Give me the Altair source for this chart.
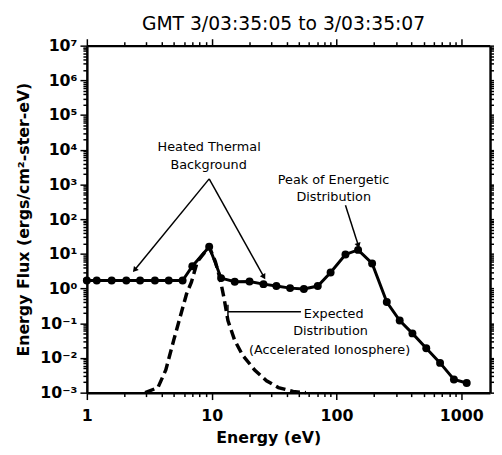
import math
import altair as alt
import pandas as pd

# ---------------- data ----------------
# measured spectrum (solid line with dots)
energy_obs = [1.0, 1.2, 1.58, 2.07, 2.67, 3.51, 4.53, 5.85, 7.0, 9.55, 11.9, 15.3,
              20.1, 26.0, 33.0, 42.5, 54.8, 70.8, 89.7, 118, 149, 193, 253, 321,
              406, 524, 676, 873, 1105]
flux_obs = [1.7, 1.7, 1.7, 1.7, 1.7, 1.7, 1.7, 1.7, 4.4, 16, 2.0, 1.58,
            1.6, 1.34, 1.18, 1.03, 0.97, 1.18, 2.9, 9.6, 13, 5.3, 0.41, 0.12,
            0.051, 0.019, 0.0072, 0.0024, 0.0019]

# expected distribution (dashed)
energy_exp = [2.93, 3.71, 4.29, 4.96, 5.74, 6.29, 6.88, 7.68, 9.55, 10.7, 11.7,
              12.6, 13.5, 15.3, 17.7, 22.1, 27.5, 34.2, 44.9, 56.9]
flux_exp = [0.001, 0.0014, 0.0045, 0.032, 0.215, 0.70, 1.53, 6.0, 16, 6.0, 1.86,
            0.50, 0.119, 0.032, 0.012, 0.0045, 0.0022, 0.0014, 0.00108, 0.001]

# axis ticks
x_tick_values = [1, 10, 100, 1000]
x_tick_labels = ["1", "10", "100", "1000"]
x_minor_mult = [2, 3, 4, 5, 6, 7, 8, 9]
y_tick_values = [1e-3, 1e-2, 1e-1, 1e0, 1e1, 1e2, 1e3, 1e4, 1e5, 1e6, 1e7]
y_tick_labels = ["10⁻³", "10⁻²", "10⁻¹", "10⁰", "10¹", "10²", "10³",
                 "10⁴", "10⁵", "10⁶", "10⁷"]

# annotations
note_text = ["Heated Thermal", "Background", "Peak of Energetic", "Distribution",
             "Expected", "Distribution", "(Accelerated Ionosphere)"]
note_x = [9.55, 9.45, 94.7, 95, 95, 89.6, 88]
note_y = [12000, 3670, 1380, 425, 0.189, 0.058, 0.0168]

seg_x = [9.55, 9.55, 118, 51.9, 13.5]
seg_y = [1450, 1450, 251, 0.215, 0.34]
seg_x2 = [2.44, 26.0, 149, 13.5, 13.5]
seg_y2 = [3.58, 2.27, 18.4, 0.215, 0.136]
seg_head = [True, True, True, False, False]

# ---------------- layout ----------------
W, H = 409, 352
XMIN, XMAX = 1, 1700
YMIN, YMAX = 1e-3, 1e7
FONT = "DejaVu Sans"

x_scale = alt.Scale(type="log", domain=[XMIN, XMAX], nice=False)
y_scale = alt.Scale(type="log", domain=[YMIN, YMAX], nice=False)

x_all = []
for v in x_tick_values:
    x_all.append(v)
    if v * 2 <= XMAX:
        x_all += [v * m for m in x_minor_mult if v * m <= XMAX]
y_all = []
for v in y_tick_values:
    y_all.append(v)
    if v < YMAX:
        y_all += [v * m for m in x_minor_mult]


def label_expr(values, labels):
    expr = "''"
    for v, l in reversed(list(zip(values, labels))):
        expr = f"abs(datum.value/{v!r} - 1) < 1e-6 ? '{l}' : ({expr})"
    return expr


major_test = "abs(log(datum.value)/LN10 - round(log(datum.value)/LN10)) < 0.0001"
tick_size = {"condition": {"test": major_test, "value": 7}, "value": 4}

common_axis = dict(grid=False, domainColor="black", domainWidth=2.5,
                   tickColor="black", tickWidth=1.5, tickSize=tick_size,
                   labelOverlap=False, labelFlush=False, labelBound=False)

x_axis_main = alt.Axis(values=x_all, labelExpr=label_expr(x_tick_values, x_tick_labels),
                       labelFont=FONT, labelFontWeight="bold", labelFontSize=16,
                       labelColor="black", labelPadding=8,
                       title="Energy (eV)", titleFont=FONT, titleFontWeight="bold",
                       titleFontSize=16, titleColor="black", titleX=184, titleY=51,
                       titleBaseline="alphabetic", titleAlign="center",
                       orient="bottom", **common_axis)
y_axis_main = alt.Axis(values=y_all, labelExpr=label_expr(y_tick_values, y_tick_labels),
                       labelFont=FONT, labelFontWeight="bold", labelFontSize=16,
                       labelColor="black", labelPadding=3,
                       title="Energy Flux (ergs/cm²-ster-eV)", titleFont=FONT,
                       titleFontWeight="bold", titleFontSize=16, titleColor="black",
                       titleX=-64, titleY=176, titleAngle=270, titleBaseline="middle",
                       titleAlign="center", orient="left", **common_axis)
x_axis_top = alt.Axis(values=x_all, labels=False, title=None, orient="top", **common_axis)
y_axis_right = alt.Axis(values=y_all, labels=False, title=None, orient="right", **common_axis)

obs = pd.DataFrame({"energy": energy_obs, "flux": flux_obs})
exp_df = pd.DataFrame({"energy": energy_exp, "flux": flux_exp})
notes = pd.DataFrame({"text": note_text, "energy": note_x, "flux": note_y})
segs = pd.DataFrame({"x": seg_x, "y": seg_y, "x2": seg_x2, "y2": seg_y2})


def px(e):
    return W * math.log10(e / XMIN) / math.log10(XMAX / XMIN)


def py(f):
    return H * (math.log10(YMAX) - math.log10(f)) / (math.log10(YMAX) - math.log10(YMIN))


heads = []
for x0, y0, x1, y1, h in zip(seg_x, seg_y, seg_x2, seg_y2, seg_head):
    if not h:
        continue
    dx = px(x1) - px(x0)
    dy = py(y1) - py(y0)
    ang = math.degrees(math.atan2(dx, -dy)) % 360
    heads.append({"energy": x1, "flux": y1, "angle": ang})
heads = pd.DataFrame(heads)

dashed = alt.Chart(exp_df).mark_line(color="black", strokeWidth=3.5, strokeDash=[10, 5]).encode(
    x=alt.X("energy:Q", scale=x_scale, axis=x_axis_top),
    y=alt.Y("flux:Q", scale=y_scale, axis=y_axis_right),
)
solid = alt.Chart(obs).mark_line(color="black", strokeWidth=3).encode(
    x=alt.X("energy:Q", scale=x_scale, axis=x_axis_main),
    y=alt.Y("flux:Q", scale=y_scale, axis=y_axis_main),
)
dots = alt.Chart(obs).mark_point(filled=True, color="black", size=65, opacity=1).encode(
    x=alt.X("energy:Q", scale=x_scale, axis=None),
    y=alt.Y("flux:Q", scale=y_scale, axis=None),
)
arrows = alt.Chart(segs).mark_rule(color="black", strokeWidth=1.5).encode(
    x=alt.X("x:Q", scale=x_scale, axis=None),
    y=alt.Y("y:Q", scale=y_scale, axis=None),
    x2="x2:Q",
    y2="y2:Q",
)
arrow_heads = alt.Chart(heads).mark_point(shape="triangle", filled=True, color="black",
                                          size=40, opacity=1).encode(
    x=alt.X("energy:Q", scale=x_scale, axis=None),
    y=alt.Y("flux:Q", scale=y_scale, axis=None),
    angle=alt.Angle("angle:Q", scale=None),
)
texts = alt.Chart(notes).mark_text(font=FONT, fontSize=13, color="black",
                                   align="center", baseline="middle").encode(
    x=alt.X("energy:Q", scale=x_scale, axis=None),
    y=alt.Y("flux:Q", scale=y_scale, axis=None),
    text="text:N",
)

chart = alt.layer(dashed, solid, dots, arrows, arrow_heads, texts).properties(
    width=W, height=H,
    title=alt.TitleParams("GMT 3/03:35:05 to 3/03:35:07", font=FONT, fontSize=19,
                          fontWeight="normal", color="black", frame="group",
                          anchor="middle", offset=10, baseline="alphabetic",
                          dx=-5, dy=21),
    autosize=alt.AutoSizeParams(type="none"),
    padding={"left": 80, "top": 35, "right": 4, "bottom": 56},
).configure_view(stroke=None).configure(background="white")

chart.save("out.html", embed_options={"renderer": "svg", "actions": False})
